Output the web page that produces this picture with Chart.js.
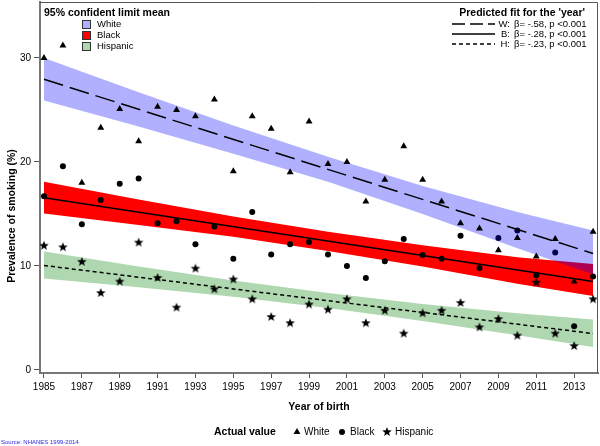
<!DOCTYPE html>
<html>
<head>
<meta charset="utf-8">
<script src="https://cdn.jsdelivr.net/npm/chart.js@4"></script>
<style>
  html, body { margin: 0; padding: 0; background: #fff; }
</style>
</head>
<body>
<canvas id="graph" width="600" height="446"></canvas>
<script>
// values
var years = [1985, 1986, 1987, 1988, 1989, 1990, 1991, 1992, 1993, 1994,
             1995, 1996, 1997, 1998, 1999, 2000, 2001, 2002, 2003, 2004,
             2005, 2006, 2007, 2008, 2009, 2010, 2011, 2012, 2013, 2014];
var whiteVals = [30.0, 31.2, 18.0, 23.3, 25.1, 22.0, 25.3, 25.0, 24.4, 26.0,
                 19.1, 24.4, 23.2, 19.0, 23.9, 19.8, 20.0, 16.2, 18.3, 21.5,
                 18.3, 16.2, 14.1, 13.6, 11.5, 12.7, 10.9, 12.6, 8.5, 13.3];
var blackVals = [16.7, 19.6, 14.0, 16.35, 17.9, 18.4, 14.1, 14.3, 12.1, 13.8,
                 10.7, 15.2, 11.1, 12.1, 12.3, 11.1, 10.0, 8.85, 10.45, 12.6,
                 11.05, 10.7, 12.9, 9.8, 12.7, 13.4, 9.1, 11.3, 4.2, 9.0];
var hispVals = [11.95, 11.8, 10.4, 7.4, 8.5, 12.25, 8.85, 6.0, 9.75, 7.76,
                8.7, 6.8, 5.1, 4.5, 6.3, 5.8, 6.8, 4.5, 5.7, 3.5,
                5.45, 5.7, 6.45, 4.1, 4.9, 3.3, 8.4, 3.5, 2.3, 6.8];

var fitYears = [1985, 2014];
var whiteFit = [27.95, 11.2];
var blackFit = [16.57, 8.5];
var hispFit = [10.05, 3.5];

var bandYears = [1985, 1990, 1995, 2000, 2005, 2010, 2014];
var whiteUpper = [30.0, 26.7, 23.5, 20.5, 17.7, 15.2, 13.4];
var whiteLower = [25.9, 23.4, 20.8, 18.1, 15.0, 11.7, 9.2];
var blackUpper = [18.1, 16.4, 14.75, 13.3, 12.0, 10.85, 10.2];
var blackLower = [15.05, 13.95, 12.8, 11.45, 9.95, 8.3, 7.1];
var hispUpper = [11.4, 9.95, 8.6, 7.4, 6.35, 5.45, 4.85];
var hispLower = [8.8, 7.95, 7.05, 5.95, 4.7, 3.35, 2.2];

var yearTicks = [1985, 1987, 1989, 1991, 1993, 1995, 1997, 1999, 2001, 2003, 2005, 2007, 2009, 2011, 2013];
var prevTicks = [0, 10, 20, 30];

var fitLabels = ["W:", "B:", "H:"];
var fitNotes = ["\u03B2= -.58, p <0.001", "\u03B2= -.28, p <0.001", "\u03B2= -.23, p <0.001"];
var groups = ["White", "Black", "Hispanic"];

var FONT = "'Liberation Sans', Arial, sans-serif";
var blueBand = "rgba(0,0,255,0.31)";
var redBand = "#ff0000";
var greenBand = "rgb(176,216,176)";

function pts(xs, ys) {
    return xs.map(function(x, i){ return {x: x, y: ys[i]}; });
}

function makeStar(r) {
    var c = document.createElement("canvas");
    var s = Math.ceil(r * 2) + 2;
    c.width = s; c.height = s;
    var g = c.getContext("2d");
    g.fillStyle = "#000";
    g.beginPath();
    for (var i = 0; i < 10; i++) {
        var rad = i % 2 ? r * 0.42 : r;
        var a = -Math.PI / 2 + i * Math.PI / 5;
        g.lineTo(s / 2 + rad * Math.cos(a), s / 2 + rad * Math.sin(a));
    }
    g.closePath();
    g.fill();
    return c;
}
var star = makeStar(5);

function fitLine(data, dash) {
    return {data: pts(fitYears, data), borderColor: "#000", borderWidth: 1.5, borderDash: dash,
            pointRadius: 0, fill: false, order: 0};
}
function marks(data, style, r) {
    return {data: pts(years, data), showLine: false, pointStyle: style, pointRadius: r,
            pointHoverRadius: r, pointBackgroundColor: "#000", pointBorderColor: "#000",
            pointBorderWidth: 0, order: 1};
}
function band(data, target, color, order) {
    return {data: pts(bandYears, data), borderColor: "rgba(0,0,0,0)", borderWidth: 0,
            pointRadius: 0, backgroundColor: color, fill: target, order: order};
}

var ds = [
    fitLine(whiteFit, [20, 7]),                 // 0
    fitLine(blackFit, []),                      // 1
    fitLine(hispFit, [4, 3]),                   // 2
    marks(whiteVals, "triangle", 4),            // 3
    marks(hispVals, star, 5),                   // 4
    band(whiteUpper, 6, blueBand, 2),           // 5
    band(whiteLower, false, blueBand, 2),       // 6
    marks(blackVals, "circle", 3),              // 7
    band(hispUpper, 9, greenBand, 4),           // 8
    band(hispLower, false, greenBand, 4),       // 9
    band(blackUpper, 11, redBand, 5),           // 10
    band(blackLower, false, redBand, 5)         // 11
];
ds[7].order = 3;

function drawTri(ctx, x, y, r) {
    ctx.beginPath();
    ctx.moveTo(x, y - r);
    ctx.lineTo(x + r * 0.87, y + r * 0.5);
    ctx.lineTo(x - r * 0.87, y + r * 0.5);
    ctx.closePath();
    ctx.fill();
}

var decor = {
    id: "decor",
    afterDraw: function(chart) {
        var ctx = chart.ctx;
        var a = chart.chartArea;
        ctx.save();
        // frame top/right
        ctx.strokeStyle = "#555";
        ctx.lineWidth = 1;
        ctx.beginPath();
        ctx.moveTo(a.left, a.top + 0.5);
        ctx.lineTo(a.right - 0.5, a.top + 0.5);
        ctx.lineTo(a.right - 0.5, a.bottom);
        ctx.stroke();

        ctx.fillStyle = "#000";
        ctx.textBaseline = "middle";
        // left legend
        ctx.font = "bold 10.5px " + FONT;
        ctx.textAlign = "left";
        ctx.fillText("95% confident limit mean", 44, 13);
        var sw = ["#b0b0ff", redBand, greenBand];
        ctx.font = "9.5px " + FONT;
        for (var i = 0; i < 3; i++) {
            var yy = 24 + i * 11;
            ctx.fillStyle = sw[i];
            ctx.fillRect(82, yy - 4, 8, 8);
            ctx.strokeStyle = "#333";
            ctx.strokeRect(82.5, yy - 3.5, 8, 8);
            ctx.fillStyle = "#000";
            ctx.fillText(groups[i], 97, yy);
        }

        // right legend
        ctx.font = "bold 10.5px " + FONT;
        ctx.textAlign = "right";
        ctx.fillText("Predicted fit for the 'year'", 585, 13);
        var dashes = [[13, 5], [], [4, 3]];
        ctx.font = "9.5px " + FONT;
        for (var j = 0; j < 3; j++) {
            var y2 = 24 + j * 10;
            ctx.strokeStyle = "#000";
            ctx.lineWidth = 1.3;
            ctx.setLineDash(dashes[j]);
            ctx.beginPath();
            ctx.moveTo(452, y2);
            ctx.lineTo(495, y2);
            ctx.stroke();
            ctx.setLineDash([]);
            ctx.textAlign = "right";
            ctx.fillText(fitLabels[j], 510, y2);
            ctx.textAlign = "left";
            ctx.fillText(fitNotes[j], 514, y2);
        }

        // axis titles
        ctx.font = "bold 10.5px " + FONT;
        ctx.textAlign = "center";
        ctx.fillText("Year of birth", 319, 407);
        ctx.save();
        ctx.translate(12, 216);
        ctx.rotate(-Math.PI / 2);
        ctx.fillText("Prevalence of smoking (%)", 0, 0);
        ctx.restore();

        // bottom legend
        ctx.textAlign = "left";
        ctx.fillText("Actual value", 214, 432);
        ctx.font = "10px " + FONT;
        drawTri(ctx, 297, 432, 4);
        ctx.fillText(groups[0], 304, 432);
        ctx.beginPath();
        ctx.arc(342, 432, 3, 0, Math.PI * 2);
        ctx.fill();
        ctx.fillText(groups[1], 350, 432);
        ctx.drawImage(star, 387 - star.width / 2, 432 - star.height / 2);
        ctx.fillText(groups[2], 395, 432);

        // source note
        ctx.font = "6px " + FONT;
        ctx.fillStyle = "rgb(40,40,230)";
        ctx.fillText("Source: NHANES 1999-2014", 1, 442);
        ctx.restore();
    }
};

function noPad(s) {
    s.paddingTop = 0; s.paddingBottom = 0; s.paddingLeft = 0; s.paddingRight = 0;
}

new Chart(document.getElementById("graph"), {
    type: "line",
    data: { datasets: ds },
    options: {
        responsive: false,
        animation: false,
        devicePixelRatio: 1,
        layout: { autoPadding: false, padding: { top: 2, right: 2, left: 0, bottom: 0 } },
        plugins: { legend: { display: false }, tooltip: { enabled: false } },
        scales: {
            x: {
                type: "linear",
                min: 1984.79,
                max: 2014.26,
                afterBuildTicks: function(s){ s.ticks = yearTicks.map(function(v){ return {value: v}; }); },
                afterFit: function(s){ s.height = 73; noPad(s); },
                grid: { drawOnChartArea: false, drawTicks: true, tickLength: 5, color: "#555" },
                border: { display: true, color: "#777", width: 2 },
                ticks: {
                    autoSkip: false, maxRotation: 0, padding: 3, color: "#000",
                    font: { family: FONT, size: 10 },
                    callback: function(v){ return String(v); }
                }
            },
            y: {
                type: "linear",
                min: -0.29,
                max: 35.38,
                afterBuildTicks: function(s){ s.ticks = prevTicks.map(function(v){ return {value: v}; }); },
                afterFit: function(s){ s.width = 40; noPad(s); },
                grid: { drawOnChartArea: false, drawTicks: true, tickLength: 6, color: "#555" },
                border: { display: true, color: "#777", width: 2 },
                ticks: {
                    padding: 3, color: "#000",
                    font: { family: FONT, size: 10 },
                    callback: function(v){ return String(v); }
                }
            }
        }
    },
    plugins: [decor]
});
</script>
</body>
</html>
